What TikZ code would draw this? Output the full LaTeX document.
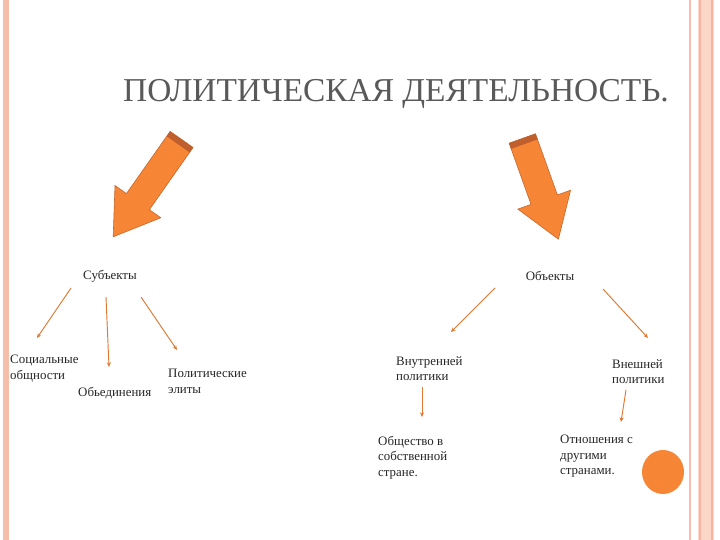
\documentclass[tikz,border=0pt]{standalone}
\usepackage{fontspec}
\setmainfont{Liberation Serif}
\usetikzlibrary{arrows.meta}
\definecolor{pinkb}{RGB}{248,190,172}
\definecolor{pinkl}{RGB}{252,215,200}
\definecolor{pinkd}{RGB}{248,180,160}
\definecolor{orng}{RGB}{246,134,54}
\definecolor{orngd}{RGB}{200,100,40}
\definecolor{orngc}{RGB}{190,95,45}
\definecolor{orngl}{RGB}{222,120,50}
\begin{document}
\begin{tikzpicture}[x=0.03cm,y=-0.03cm,
  lbl/.style={font=\fontsize{11}{13.2}\selectfont, text=black!85, align=left, inner sep=0pt},
  thin arrow/.style={draw=orngl, line width=0.8pt, -{Stealth[length=4pt,width=3.5pt]}},
  bigarrow/.style={fill=orng, draw=orngd, line width=0.5pt}]
\useasboundingbox (0,0) rectangle (720,540);
\fill[white] (0,0) rectangle (720,540);
% borders
\fill[pinkb] (3,0) rectangle (9,540);
\draw[pinkb, line width=1pt] (690,0) -- (690,540);
\fill[pinkl] (698,0) rectangle (714,540);
\draw[pinkd, line width=1pt] (700,0) -- (700,540) (712,0) -- (712,540);
% title
\node[font=\fontsize{28.5}{32}\selectfont, text=black!65, anchor=west, inner sep=0pt] (title) at (123,94) {ПОЛИТИЧЕСКАЯ ДЕЯТЕЛЬНОСТЬ.};
% big arrows
\begin{scope}[shift={(177,146)}, rotate=234.9]
  \path[bigarrow] (-8,-14) -- (68,-14) -- (68,-28) -- (111,0) -- (68,28) -- (68,14) -- (-8,14) -- cycle;
  \fill[orngc] (-8,-14) rectangle (-2,14);
\end{scope}
\begin{scope}[shift={(525,146)}, rotate=-70.3]
  \path[bigarrow] (-8,-14) -- (57,-14) -- (57,-28) -- (99,0) -- (57,28) -- (57,14) -- (-8,14) -- cycle;
  \fill[orngc] (-8,-14) rectangle (-2,14);
\end{scope}
% labels
\node[lbl] (subj) at (110,276) {Субъекты};
\node[lbl] (obj) at (550,276) {Объекты};
\node[lbl, anchor=north west] (soc) at (10,355) {Социальные\\общности};
\node[lbl, anchor=north west] (ob) at (78,387) {Обьединения};
\node[lbl, anchor=north west] (pol) at (168,369) {Политические\\элиты};
\node[lbl, anchor=north west] (vn) at (396,356) {Внутренней\\политики};
\node[lbl, anchor=north west] (ve) at (612,359) {Внешней\\политики};
\node[lbl, anchor=north west] (os) at (378,436) {Общество в\\собственной\\стране.};
\node[lbl, anchor=north west] (ot) at (560,435) {Отношения с\\другими\\странами.};
% small arrows
\coordinate (a1s) at (71,288); \coordinate (a1e) at (37,338);
\coordinate (a2s) at (106,297); \coordinate (a2e) at (109,367);
\coordinate (a3s) at (141,297); \coordinate (a3e) at (177,350);
\coordinate (b1s) at (495,288); \coordinate (b1e) at (451,332);
\coordinate (b2s) at (603,289); \coordinate (b2e) at (648,338);
\coordinate (c1s) at (422,387); \coordinate (c1e) at (422,417);
\coordinate (c2s) at (626,390); \coordinate (c2e) at (621,422);
\foreach \s/\e in {a1s/a1e,a2s/a2e,a3s/a3e,b1s/b1e,b2s/b2e,c1s/c1e,c2s/c2e}
  \draw[thin arrow] (\s) -- (\e);
% circle
\fill[orng] (663,472) ellipse [x radius=21, y radius=22];
\end{tikzpicture}
\end{document}
